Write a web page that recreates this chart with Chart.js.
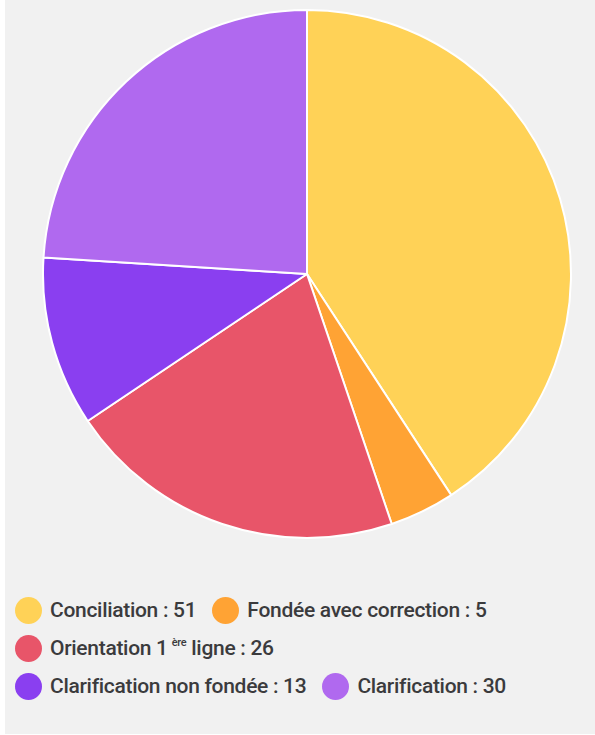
<!DOCTYPE html>
<html>
<head>
<meta charset="utf-8">
<script src="https://cdn.jsdelivr.net/npm/chart.js@4"></script>
<style>
    html, body { margin: 0; padding: 0; background: #fff; }
    #panel {
        position: absolute; left: 5px; top: 0; width: 590px; height: 734px;
        background: #f1f1f1;
    }
    #pieBox { position: absolute; left: 37px; top: 9px; width: 530px; height: 530px; }
    #legend {
        position: absolute; left: 10px; top: 591px; width: 580px;
        font-family: Roboto, sans-serif; font-weight: 500; font-size: 21px;
        color: #3b3b3d; letter-spacing: -0.3px;
    }
    .row { display: flex; align-items: center; height: 38px; }
    .item { display: flex; align-items: center; margin-right: 16px; white-space: nowrap; }
    .dot { width: 27px; height: 27px; border-radius: 50%; margin-right: 8px; }
    sup { font-size: 11px; vertical-align: 9px; margin-left: 4px; }
</style>
</head>
<body>
<div id="panel">
    <div id="pieBox"><canvas id="pieChart"></canvas></div>
    <div id="legend"></div>
</div>
<script>
const categories = ['Conciliation', 'Fondée avec correction', 'Orientation 1 ère ligne', 'Clarification non fondée', 'Clarification'];
const values = [51, 5, 26, 13, 30];
const colors = ['#ffd257', '#ffa334', '#e85569', '#8a3ff0', '#b069ef'];
// which items go on which legend line
const legendRows = [[0, 1], [2], [3, 4]];

const ctx = document.getElementById('pieChart').getContext('2d');
const pieChart = new Chart(ctx, {
    type: 'pie',
    data: {
        labels: categories,
        datasets: [{
            data: values,
            backgroundColor: colors,
            borderColor: '#ffffff',
            borderWidth: 2
        }]
    },
    options: {
        responsive: true,
        maintainAspectRatio: false,
        animation: false,
        plugins: {
            legend: { display: false },
            tooltip: { enabled: false }
        }
    }
});

// HTML legend (needs the superscript in "1 ère")
function labelHtml(name) {
    return name.replace('1 ère ', '1<sup>ère</sup> ');
}
const legendEl = document.getElementById('legend');
legendRows.forEach(row => {
    const rowEl = document.createElement('div');
    rowEl.className = 'row';
    row.forEach(i => {
        const item = document.createElement('div');
        item.className = 'item';
        item.innerHTML = '<span class="dot" style="background:' + colors[i] + '"></span>' +
            '<span>' + labelHtml(categories[i]) + ' : ' + values[i] + '</span>';
        rowEl.appendChild(item);
    });
    legendEl.appendChild(rowEl);
});
</script>
</body>
</html>
